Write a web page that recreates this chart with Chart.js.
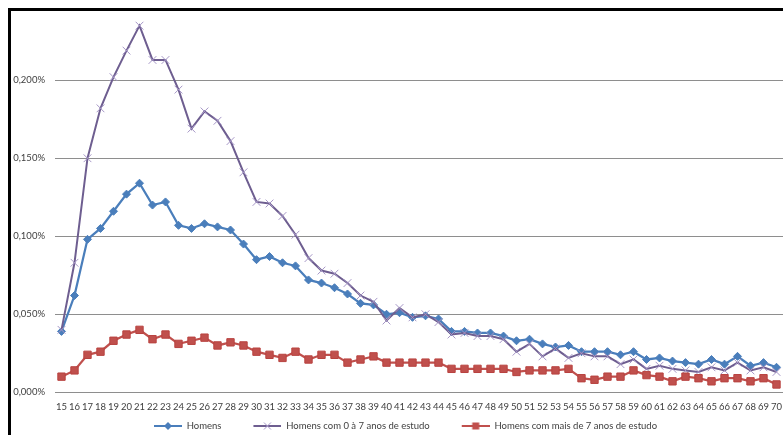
<!DOCTYPE html>
<html lang="pt-BR">
<head>
<meta charset="utf-8">
<title>Homens por idade</title>
<script src="https://cdn.jsdelivr.net/npm/chart.js@4.4.1/dist/chart.umd.min.js"></script>
<style>
  html, body { margin: 0; padding: 0; background: #fff; }
  #quadro { position: relative; width: 783px; height: 435px; overflow: hidden; }
  #grafico { position: absolute; left: 0; top: 0; }
  /* moldura preta (só esquerda e topo aparecem) */
  #moldura { position: absolute; left: 8px; top: 8px; width: 800px; height: 470px;
    border-left: 3px solid #000; border-top: 3px solid #000; pointer-events: none; }
</style>
</head>
<body>
<div id="quadro">
  <canvas id="grafico" width="783" height="435"></canvas>
  <div id="moldura"></div>
</div>
<script>
// idades (eixo x)
const idades = ['15','16','17','18','19','20','21','22','23','24','25','26','27','28','29','30',
  '31','32','33','34','35','36','37','38','39','40','41','42','43','44','45','46','47','48',
  '49','50','51','52','53','54','55','56','57','58','59','60','61','62','63','64','65','66',
  '67','68','69','70'];

// valores em %
const homens = [0.039, 0.062, 0.098, 0.105, 0.116, 0.127, 0.134, 0.120, 0.122, 0.107,
  0.105, 0.108, 0.106, 0.104, 0.095, 0.085, 0.087, 0.083, 0.081, 0.072,
  0.070, 0.067, 0.063, 0.057, 0.056, 0.050, 0.051, 0.048, 0.049, 0.047,
  0.039, 0.039, 0.038, 0.038, 0.036, 0.033, 0.034, 0.031, 0.029, 0.030,
  0.026, 0.026, 0.026, 0.024, 0.026, 0.021, 0.022, 0.020, 0.019, 0.018,
  0.021, 0.018, 0.023, 0.017, 0.019, 0.016];

const homensAte7 = [0.040, 0.083, 0.150, 0.182, 0.202, 0.219, 0.235, 0.213, 0.213, 0.194,
  0.169, 0.180, 0.174, 0.161, 0.141, 0.122, 0.121, 0.113, 0.101, 0.086,
  0.078, 0.076, 0.070, 0.062, 0.058, 0.046, 0.054, 0.048, 0.050, 0.045,
  0.037, 0.038, 0.036, 0.036, 0.034, 0.026, 0.031, 0.023, 0.028, 0.022,
  0.025, 0.023, 0.023, 0.018, 0.021, 0.015, 0.017, 0.015, 0.014, 0.013,
  0.016, 0.014, 0.019, 0.014, 0.016, 0.013];

const homensMais7 = [0.010, 0.014, 0.024, 0.026, 0.033, 0.037, 0.040, 0.034, 0.037, 0.031,
  0.033, 0.035, 0.030, 0.032, 0.030, 0.026, 0.024, 0.022, 0.026, 0.021,
  0.024, 0.024, 0.019, 0.021, 0.023, 0.019, 0.019, 0.019, 0.019, 0.019,
  0.015, 0.015, 0.015, 0.015, 0.015, 0.013, 0.014, 0.014, 0.014, 0.015,
  0.009, 0.008, 0.010, 0.010, 0.014, 0.011, 0.010, 0.007, 0.010, 0.009,
  0.007, 0.009, 0.009, 0.007, 0.009, 0.005];

const yTicks = [0, 0.05, 0.10, 0.15, 0.20];

const corTexto = '#404040';
const corGrade = '#8e8e8e';
const fonte = { family: 'Lato', size: 9.5 };

const AZUL = '#4a7ebb';
const ROXO = '#6e5e90';
const ROXO_X = '#a596c6';
const VERMELHO = '#c0504d';

// ícones da legenda: linha curta com o marcador no meio
// (canvas mais largo que a linha, a parte vazia serve de espaço entre itens)
const LARG_ICONE = 56;
const LARG_LINHA = 28;

function iconeLegenda(cor, marcador) {
  const c = document.createElement('canvas');
  c.width = LARG_ICONE; c.height = 10;
  const ctx = c.getContext('2d');
  ctx.strokeStyle = cor;
  ctx.lineWidth = 2;
  ctx.beginPath();
  ctx.moveTo(LARG_ICONE - LARG_LINHA, 5);
  ctx.lineTo(LARG_ICONE, 5);
  ctx.stroke();
  marcador(ctx, LARG_ICONE - LARG_LINHA / 2, 5);
  return c;
}

const icones = [
  iconeLegenda(AZUL, (ctx, x, y) => {
    ctx.fillStyle = AZUL;
    ctx.beginPath();
    ctx.moveTo(x, y - 4); ctx.lineTo(x + 4, y); ctx.lineTo(x, y + 4); ctx.lineTo(x - 4, y);
    ctx.closePath();
    ctx.fill();
  }),
  iconeLegenda(ROXO, (ctx, x, y) => {
    ctx.strokeStyle = ROXO_X;
    ctx.lineWidth = 1;
    ctx.beginPath();
    ctx.moveTo(x - 3.5, y - 3.5); ctx.lineTo(x + 3.5, y + 3.5);
    ctx.moveTo(x + 3.5, y - 3.5); ctx.lineTo(x - 3.5, y + 3.5);
    ctx.stroke();
  }),
  iconeLegenda(VERMELHO, (ctx, x, y) => {
    ctx.fillStyle = VERMELHO;
    ctx.fillRect(x - 3.5, y - 3.5, 7, 7);
  })
];

// tira a margem que os eixos reservam para os rótulos das pontas
function semMargem(scale) {
  scale.paddingTop = 0;
  scale.paddingBottom = 0;
  scale.paddingLeft = 0;
  scale.paddingRight = 0;
}

const ctx = document.getElementById('grafico').getContext('2d');

new Chart(ctx, {
  type: 'line',
  data: {
    labels: idades,
    datasets: [
      {
        label: 'Homens',
        data: homens,
        borderColor: AZUL,
        backgroundColor: AZUL,
        borderWidth: 2.25,
        pointStyle: 'rectRot',
        pointRadius: 4,
        pointBackgroundColor: AZUL,
        pointBorderColor: AZUL,
        pointBorderWidth: 1,
        order: 3
      },
      {
        label: 'Homens com 0 à 7 anos de estudo',
        data: homensAte7,
        borderColor: ROXO,
        backgroundColor: ROXO,
        borderWidth: 2,
        pointStyle: 'crossRot',
        pointRadius: 5.5,
        pointBorderColor: ROXO_X,
        pointBorderWidth: 1,
        order: 2
      },
      {
        label: 'Homens com mais de 7 anos de estudo',
        data: homensMais7,
        borderColor: VERMELHO,
        backgroundColor: VERMELHO,
        borderWidth: 2.25,
        pointStyle: 'rect',
        pointRadius: 5.2,
        pointBackgroundColor: VERMELHO,
        pointBorderColor: '#b8423f',
        pointBorderWidth: 1,
        order: 1
      }
    ]
  },
  options: {
    responsive: false,
    animation: false,
    layout: { autoPadding: false, padding: { top: 2.25, right: 0, bottom: 0, left: 0 } },
    elements: { line: { tension: 0 } },
    scales: {
      x: {
        offset: true,
        grid: { display: false, drawTicks: false },
        border: { display: true, color: corGrade, width: 1 },
        ticks: { color: corTexto, font: fonte, padding: 9, autoSkip: false, maxRotation: 0 },
        afterFit(scale) {
          scale.height = 25;
          semMargem(scale);
        }
      },
      y: {
        min: 0,
        max: 0.25,
        grid: { color: corGrade, lineWidth: 1, drawTicks: false },
        border: { display: false },
        ticks: {
          color: corTexto,
          font: fonte,
          padding: 10,
          stepSize: 0.05,
          // o topo (0,250%) fica fora da moldura: sem rótulo nem linha
          callback: v => yTicks.some(t => Math.abs(t - v) < 1e-9)
            ? v.toFixed(3).replace('.', ',') + '%'
            : null
        },
        afterFit(scale) {
          scale.width = 55;
          semMargem(scale);
        }
      }
    },
    plugins: {
      tooltip: { enabled: false },
      legend: {
        position: 'bottom',
        maxHeight: 17.75,
        labels: {
          usePointStyle: true,
          pointStyleWidth: LARG_ICONE,
          padding: 4,
          color: corTexto,
          font: fonte,
          generateLabels(chart) {
            return chart.data.datasets.map((ds, i) => ({
              text: ds.label,
              pointStyle: icones[i],
              fillStyle: ds.borderColor,
              strokeStyle: ds.borderColor,
              lineWidth: 0,
              fontColor: corTexto,
              hidden: false,
              datasetIndex: i
            }));
          }
        }
      }
    }
  }
});
</script>
</body>
</html>
